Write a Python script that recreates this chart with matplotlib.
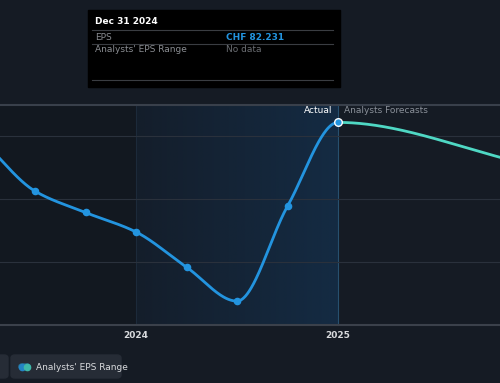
import numpy as np
import matplotlib.pyplot as plt
from matplotlib.patches import FancyBboxPatch
from matplotlib.colors import LinearSegmentedColormap

# EPS history (quarter ends, as decimal years) in CHF
hist_x = [2023.25, 2023.5, 2023.75, 2024.0, 2024.25, 2024.5, 2024.75, 2025.0]
hist_eps = [79.0, 71.3, 67.9, 64.8, 59.2, 53.8, 68.9, 82.231]

# analysts forecasts (annual)
fc_x = [2026.0, 2027.0]
fc_eps = [75.2, 70.0]

tick_pos = [2024.0, 2025.0]
tick_labels = ["2024", "2025"]

BG = "#151b24"
BLUE = "#2394df"
TEAL = "#4fd8c4"


# monotone cubic (Fritsch-Carlson), only used to smooth the drawn line
def monotone(x, y, n=1200):
    x = np.asarray(x, float)
    y = np.asarray(y, float)
    h = np.diff(x)
    d = np.diff(y) / h
    m = np.zeros_like(y)
    m[0], m[-1] = d[0], d[-1]
    for i in range(1, len(y) - 1):
        if d[i - 1] * d[i] <= 0:
            m[i] = 0
        else:
            w1 = 2 * h[i] + h[i - 1]
            w2 = h[i] + 2 * h[i - 1]
            m[i] = (w1 + w2) / (w1 / d[i - 1] + w2 / d[i])
    xs = np.linspace(x[0], x[-1], n)
    k = np.clip(np.searchsorted(x, xs) - 1, 0, len(h) - 1)
    t = (xs - x[k]) / h[k]
    h00 = 2 * t**3 - 3 * t**2 + 1
    h10 = t**3 - 2 * t**2 + t
    h01 = -2 * t**3 + 3 * t**2
    h11 = t**3 - t**2
    ys = h00 * y[k] + h10 * h[k] * m[k] + h01 * y[k + 1] + h11 * h[k] * m[k + 1]
    return xs, ys


fig = plt.figure(figsize=(5, 3.83), dpi=100)
fig.patch.set_facecolor(BG)
ax = fig.add_axes([0, 58 / 383, 1, 220 / 383])
ax.set_facecolor(BG)

x0, x1 = 2024 - 136 / 202, 2024 + 364 / 202
ax.set_xlim(x0, x1)
ax.set_ylim(50, 85)

# left darker band and shaded "past" region with gradient
ax.axvspan(x0, 2024.0, color="#121820", zorder=0)
grad = np.linspace(0, 1, 256).reshape(1, -1)
cm = LinearSegmentedColormap.from_list("g", ["#141e2b", "#142b43"])
ax.imshow(grad, extent=[2024.0, 2025.0, 50, 85], aspect="auto", cmap=cm, zorder=0.5)
ax.axvline(2025.0, color="#27506f", lw=0.8, zorder=1)
ax.axvline(2024.0, color="#1c2a3a", lw=0.8, zorder=1)

for g in [60, 70, 80]:
    ax.axhline(g, color="#2a313c", lw=0.8, zorder=1)
ax.axhline(85, color="#39404b", lw=1.5, zorder=1, clip_on=False)
ax.axhline(50, color="#3b414b", lw=1.5, zorder=1, clip_on=False)

# one smooth curve through history and forecast, split at the last actual
xs, ys = monotone(hist_x + fc_x, hist_eps + fc_eps)
past = xs <= hist_x[-1]
ax.plot(xs[past], ys[past], color=BLUE, lw=2, zorder=3, solid_capstyle="round")
ax.plot(xs[~past], ys[~past], color=TEAL, lw=2, zorder=3)
ax.scatter(hist_x[1:-1], hist_eps[1:-1], s=20, color=BLUE, zorder=4)
ax.scatter([hist_x[-1]], [hist_eps[-1]], s=30, color=BLUE, edgecolors="white",
           linewidths=1, zorder=5)

ax.text(2025.0 - 0.03, 84.1, "Actual", color="white", fontsize=6.5, ha="right", va="center")
ax.text(2025.0 + 0.03, 84.1, "Analysts Forecasts", color="#8a9099", fontsize=6.5,
        ha="left", va="center")

for s in ax.spines.values():
    s.set_visible(False)
ax.set_yticks([])
ax.set_xticks(tick_pos)
ax.set_xticklabels(tick_labels, color="#d8dadd", fontsize=6.5, fontweight="bold")
ax.tick_params(axis="x", length=0, pad=4)

# tooltip
W, H = 500, 383
def fx_(px):
    return px / W
def fy_(py):
    return 1 - py / H

fig.patches.append(plt.Rectangle((fx_(88), fy_(87)), fx_(252), 77 / H,
                                 transform=fig.transFigure, color="black", zorder=10))
fig.text(fx_(95), fy_(22), "Dec 31 2024", color="white", fontsize=6.5,
         fontweight="bold", va="center", zorder=11)
for py in [30, 44, 80]:
    fig.add_artist(plt.Line2D([fx_(92), fx_(333)], [fy_(py), fy_(py)],
                              transform=fig.transFigure, color="#3a3d42", lw=0.8, zorder=11))
fig.text(fx_(95), fy_(37), "EPS", color="#8a8d92", fontsize=6.5, va="center", zorder=11)
fig.text(fx_(226), fy_(37), "CHF 82.231", color=BLUE, fontsize=6.5, fontweight="bold",
         va="center", zorder=11)
fig.text(fx_(95), fy_(50), "Analysts' EPS Range", color="#8a8d92", fontsize=6.5,
         va="center", zorder=11)
fig.text(fx_(226), fy_(50), "No data", color="#6b6e73", fontsize=6.5, va="center", zorder=11)

# legend buttons at the bottom
for bx, bw in [(-40, 48), (11, 110)]:
    fig.patches.append(FancyBboxPatch((fx_(bx), fy_(378)), fx_(bw), 23 / H,
                                      boxstyle="round,pad=0,rounding_size=0.008",
                                      transform=fig.transFigure, color="#262c36", zorder=5))
fig.patches.append(FancyBboxPatch((fx_(19), fy_(369)), fx_(11), 5 / H,
                                  boxstyle="round,pad=0,rounding_size=0.006",
                                  transform=fig.transFigure, color="#2a6f8f", zorder=6))
fig.add_artist(plt.Line2D([fx_(22)], [fy_(366.5)], marker="o", ms=4.5, color="#2384c4",
                          transform=fig.transFigure, zorder=7))
fig.add_artist(plt.Line2D([fx_(27)], [fy_(366.5)], marker="o", ms=4.5, color="#3fb8a8",
                          transform=fig.transFigure, zorder=7))
fig.text(fx_(36), fy_(367), "Analysts' EPS Range", color="#d8dadd", fontsize=6.5,
         va="center", zorder=7)

fig.savefig("out.png", dpi=100, facecolor=BG)
